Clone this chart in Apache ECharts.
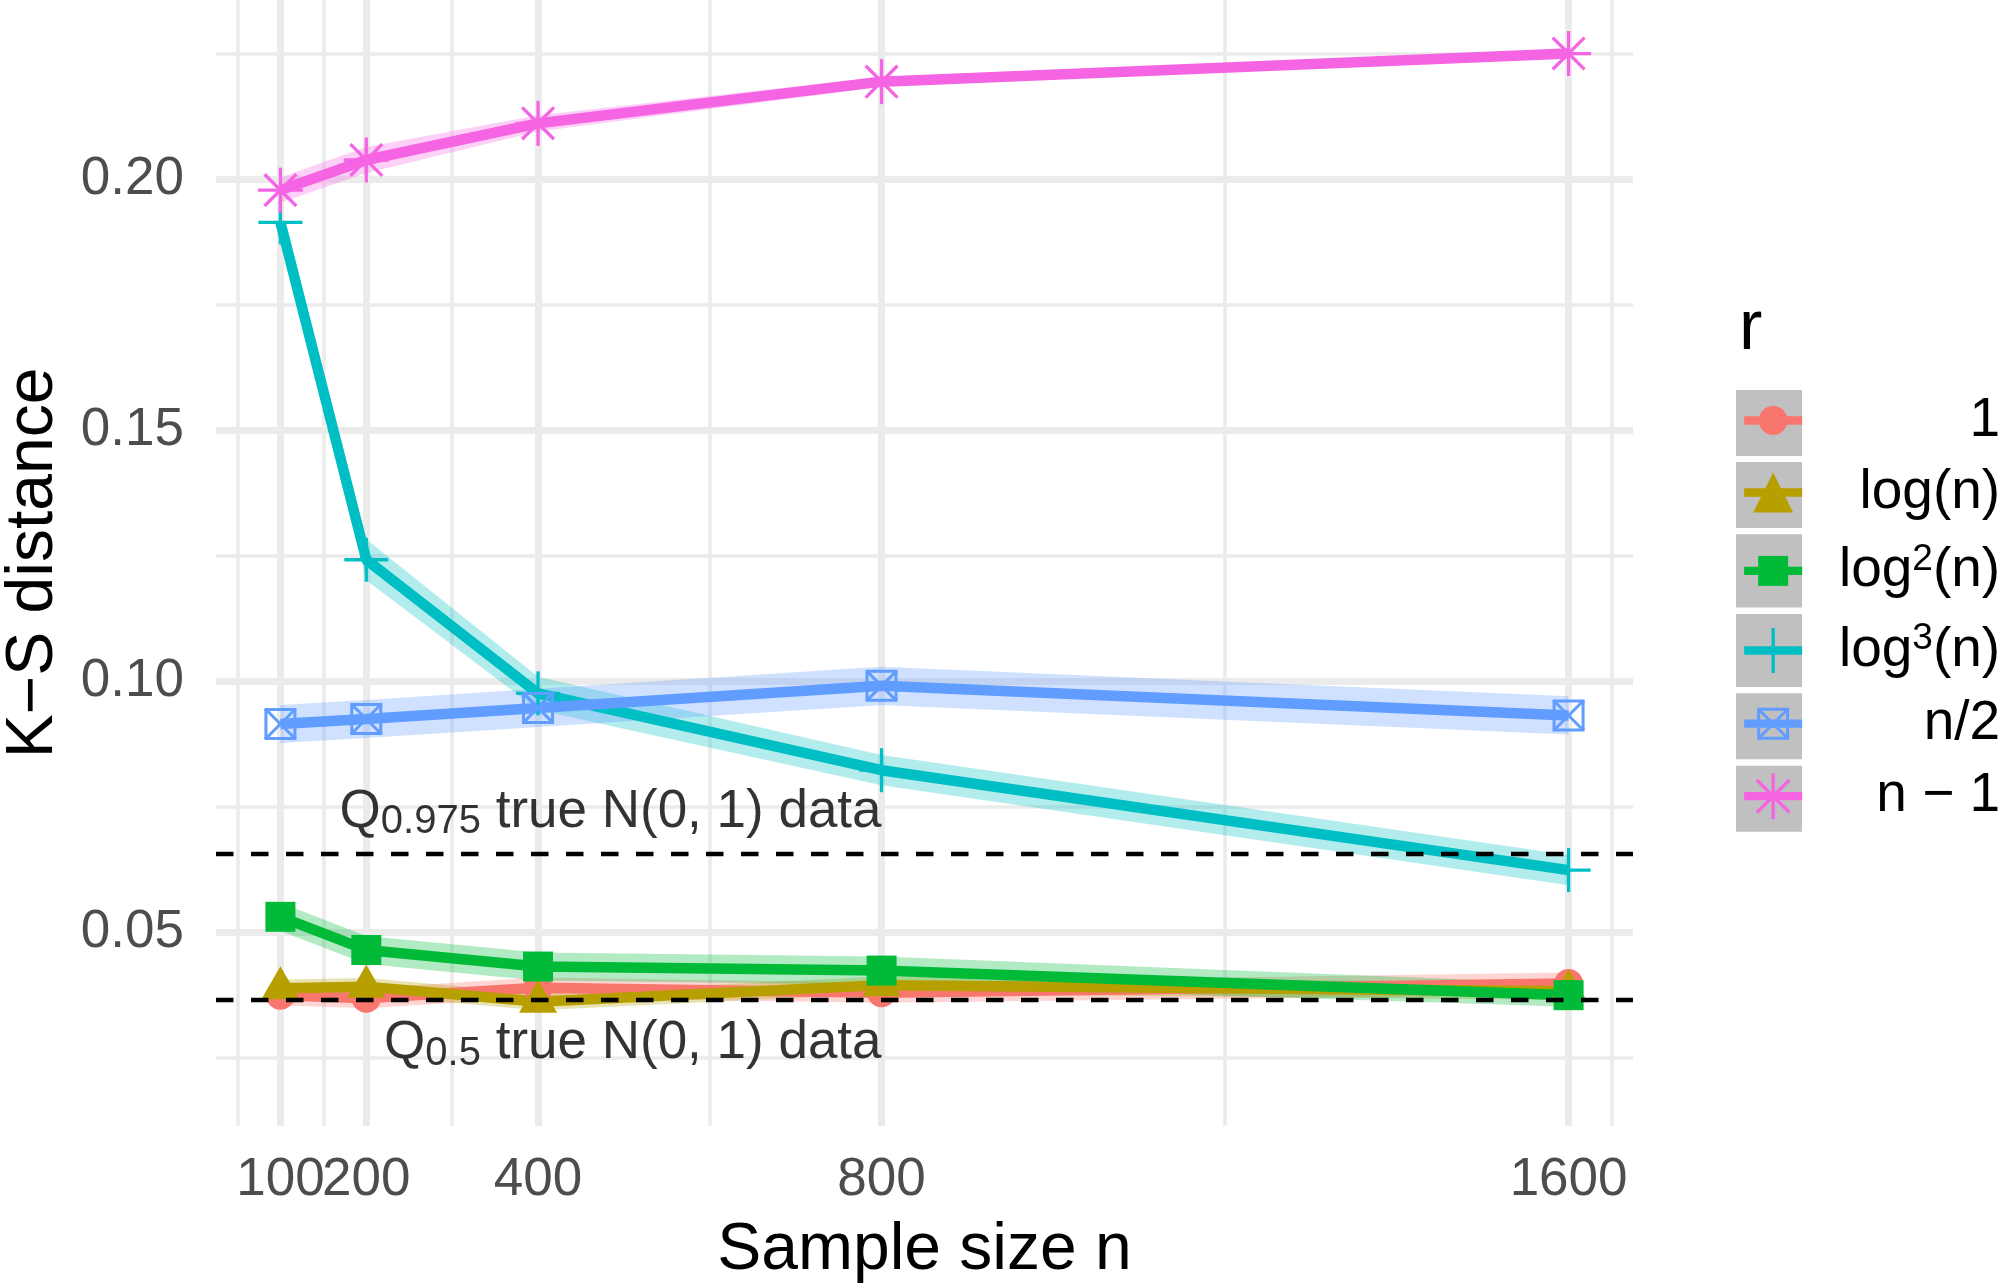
<!DOCTYPE html>
<html>
<head>
<meta charset="utf-8">
<script src="https://cdn.jsdelivr.net/npm/echarts@6/dist/echarts.min.js"></script>
<style>
html, body { margin: 0; padding: 0; background: #fff; }
#chart { width: 2000px; height: 1285px; }
</style>
</head>
<body>
<div id="chart"></div>
<script>
// data
var sampleSizes = [100, 200, 400, 800, 1600];
var xTicksA = [100, 400, 800, 1600];
var xTicksB = [200]; // own axis so it is not dropped next to 100
var xMajor = [100, 200, 400, 800, 1600];
var xMinor = [50, 150, 300, 600, 1200, 1650];
var yTicks = [0.05, 0.10, 0.15, 0.20];
var yMinor = [0.025, 0.075, 0.125, 0.175, 0.225];

var rNames = ['1', 'log(n)', 'log2(n)', 'log3(n)', 'n/2', 'n-1'];

var ksOne = [0.0375, 0.0369, 0.0390, 0.0380, 0.0398];
var ksOneLo = [0.0355, 0.0349, 0.0370, 0.0360, 0.0376];
var ksOneHi = [0.0395, 0.0389, 0.0410, 0.0400, 0.0420];

var ksLog = [0.0389, 0.0392, 0.0362, 0.0395, 0.0383];
var ksLogLo = [0.0372, 0.0375, 0.0345, 0.0378, 0.0366];
var ksLogHi = [0.0406, 0.0409, 0.0379, 0.0412, 0.0400];

var ksLog2 = [0.0531, 0.0465, 0.0432, 0.0424, 0.0375];
var ksLog2Lo = [0.0503, 0.0437, 0.0404, 0.0396, 0.0352];
var ksLog2Hi = [0.0559, 0.0493, 0.0460, 0.0452, 0.0398];

var ksLog3 = [0.1914, 0.1242, 0.0976, 0.0823, 0.0624];
var ksLog3Lo = [0.1902, 0.1201, 0.0943, 0.0793, 0.0594];
var ksLog3Hi = [0.1926, 0.1283, 0.1009, 0.0853, 0.0654];

var ksHalf = [0.0915, 0.0925, 0.0947, 0.0991, 0.0932];
var ksHalfLo = [0.0877, 0.0887, 0.0909, 0.0953, 0.0894];
var ksHalfHi = [0.0953, 0.0963, 0.0985, 0.1029, 0.0970];

var ksNm1 = [0.1978, 0.2038, 0.2111, 0.2194, 0.2250];
var ksNm1Lo = [0.1953, 0.2012, 0.2095, 0.2184, 0.2242];
var ksNm1Hi = [0.2003, 0.2064, 0.2127, 0.2204, 0.2258];

var qLines = [0.0656, 0.0366];
var qLabelX = 800;
var qLabelY = [0.0739, 0.0278];
var qLabelSub = ['0.975', '0.5'];

var colors = ['#F8766D', '#B79F00', '#00BA38', '#00BFC4', '#619CFF', '#F564E3'];
var font = 'Liberation Sans';

var values = [ksOne, ksLog, ksLog2, ksLog3, ksHalf, ksNm1];
var lows = [ksOneLo, ksLogLo, ksLog2Lo, ksLog3Lo, ksHalfLo, ksNm1Lo];
var highs = [ksOneHi, ksLogHi, ksLog2Hi, ksLog3Hi, ksHalfHi, ksNm1Hi];

// ggplot shapes 16, 17, 15, 3, 7, 8
var shapeKinds = ['circle', 'triangle', 'square', 'plus', 'squareX', 'star'];
// symbols used only by the legend icons
var legendSymbols = [
	'circle',
	'path://M0,33L19,0L38,33Z',
	'rect',
	'path://M20.35,0L23.65,0L23.65,44L20.35,44ZM0,20.35L44,20.35L44,23.65L0,23.65Z',
	'path://M0,0L32,0L32,3L0,3ZM0,29L32,29L32,32L0,32ZM0,0L3,0L3,32L0,32ZM29,0L32,0L32,32L29,32Z' +
		'M2.56,0.44L31.56,29.44L29.44,31.56L0.44,2.56ZM31.56,2.56L2.56,31.56L0.44,29.44L29.44,0.44Z',
	'path://M20.85,0L24.15,0L24.15,45L20.85,45ZM0,20.85L45,20.85L45,24.15L0,24.15Z' +
		'M7.76,5.42L39.58,37.24L37.24,39.58L5.42,7.76ZM39.58,7.76L7.76,39.58L5.42,37.24L37.24,5.42Z'
];

function zip(xs, ys) {
	return xs.map(function (x, i) { return [x, ys[i]]; });
}

// a thin stroke drawn as a filled quad
function bar(x1, y1, x2, y2, c, w) {
	var dx = x2 - x1, dy = y2 - y1;
	var len = Math.sqrt(dx * dx + dy * dy);
	var nx = -dy / len * w / 2, ny = dx / len * w / 2;
	return {
		type: 'polygon',
		shape: { points: [[x1 + nx, y1 + ny], [x2 + nx, y2 + ny], [x2 - nx, y2 - ny], [x1 - nx, y1 - ny]] },
		style: { fill: c }
	};
}

function markerItem(i) {
	var c = colors[i], kind = shapeKinds[i];
	return function (params, api) {
		var p = api.coord([api.value(0), api.value(1)]);
		var x = p[0], y = p[1];
		if (kind === 'circle') {
			return { type: 'circle', shape: { cx: x, cy: y, r: 14.5 }, style: { fill: c } };
		}
		if (kind === 'triangle') {
			return { type: 'polygon', shape: { points: [[x, y - 22], [x + 19, y + 11], [x - 19, y + 11]] }, style: { fill: c } };
		}
		if (kind === 'square') {
			return { type: 'rect', shape: { x: x - 15, y: y - 15, width: 30, height: 30 }, style: { fill: c } };
		}
		if (kind === 'plus') {
			return { type: 'group', children: [bar(x - 22, y, x + 22, y, c, 3.3), bar(x, y - 22, x, y + 22, c, 3.3)] };
		}
		if (kind === 'squareX') {
			var h = 14.5;
			return { type: 'group', children: [
				bar(x - h - 1.5, y - h, x + h + 1.5, y - h, c, 3),
				bar(x - h - 1.5, y + h, x + h + 1.5, y + h, c, 3),
				bar(x - h, y - h, x - h, y + h, c, 3),
				bar(x + h, y - h, x + h, y + h, c, 3),
				bar(x - h, y - h, x + h, y + h, c, 3),
				bar(x + h, y - h, x - h, y + h, c, 3)
			] };
		}
		var r = 22.5, d = 15.9;
		return { type: 'group', children: [
			bar(x - r, y, x + r, y, c, 3.3),
			bar(x, y - r, x, y + r, c, 3.3),
			bar(x - d, y - d, x + d, y + d, c, 3.3),
			bar(x + d, y - d, x - d, y + d, c, 3.3)
		] };
	};
}

function ribbon(i) {
	var lo = lows[i], hi = highs[i];
	return {
		name: 'band' + i,
		type: 'custom',
		z: 2,
		silent: true,
		data: sampleSizes.map(function (n, k) { return [n, lo[k], hi[k]]; }),
		encode: { x: 0, y: [1, 2] },
		renderItem: function (params, api) {
			if (params.dataIndex !== 0) return;
			var pts = [];
			for (var k = 0; k < sampleSizes.length; k++) pts.push(api.coord([sampleSizes[k], hi[k]]));
			for (var j = sampleSizes.length - 1; j >= 0; j--) pts.push(api.coord([sampleSizes[j], lo[j]]));
			return {
				type: 'polygon',
				shape: { points: pts },
				style: { fill: colors[i], opacity: 0.3 }
			};
		}
	};
}

var gridLines = [];
xMajor.forEach(function (v) { gridLines.push({ xAxis: v, lineStyle: { width: 7 } }); });
xMinor.forEach(function (v) { gridLines.push({ xAxis: v, lineStyle: { width: 3.6 } }); });
yTicks.forEach(function (v) { gridLines.push({ yAxis: v, lineStyle: { width: 7 } }); });
yMinor.forEach(function (v) { gridLines.push({ yAxis: v, lineStyle: { width: 3.6 } }); });

var series = [];
series.push({
	name: 'grid',
	type: 'line',
	data: [],
	z: 1,
	silent: true,
	markLine: {
		z: 1,
		silent: true,
		precision: 6,
		symbol: ['none', 'none'],
		label: { show: false },
		lineStyle: { color: '#EBEBEB', type: 'solid' },
		data: gridLines
	}
});

for (var i = 0; i < rNames.length; i++) series.push(ribbon(i));

for (var i = 0; i < rNames.length; i++) {
	series.push({
		name: rNames[i],
		type: 'line',
		data: zip(sampleSizes, values[i]),
		z: 3,
		symbol: legendSymbols[i],
		symbolKeepAspect: true,
		showSymbol: false,
		silent: true,
		lineStyle: { color: colors[i], width: 10.5 },
		itemStyle: { color: colors[i], borderWidth: 0 }
	});
}

for (var i = 0; i < rNames.length; i++) {
	series.push({
		name: 'points' + i,
		type: 'custom',
		z: 4,
		silent: true,
		data: zip(sampleSizes, values[i]),
		encode: { x: 0, y: 1 },
		renderItem: markerItem(i)
	});
}

series.push({
	name: 'qlines',
	type: 'line',
	data: [],
	z: 5,
	silent: true,
	markLine: {
		z: 5,
		silent: true,
		precision: 6,
		symbol: ['none', 'none'],
		label: { show: false },
		lineStyle: { color: '#000', type: [17.5, 17.5], width: 4.4 },
		data: qLines.map(function (v) { return { yAxis: v }; })
	}
});

series.push({
	name: 'qlabels',
	type: 'scatter',
	z: 6,
	silent: true,
	symbolSize: 0,
	data: qLabelY.map(function (y, k) {
		return {
			value: [qLabelX, y],
			label: { formatter: '{q|Q}{s|' + qLabelSub[k] + '}{t| true N(0, 1) data}' }
		};
	}),
	label: {
		show: true,
		position: 'left',
		distance: 0,
		color: '#000',
		rich: {
			q: { fontSize: 53, lineHeight: 60, fontFamily: font, color: '#000' },
			s: { fontSize: 40, lineHeight: 32, verticalAlign: 'bottom', fontFamily: font, color: '#000' },
			t: { fontSize: 53, lineHeight: 60, fontFamily: font, color: '#000' }
		}
	}
});

// legend: one component per key so each sits on its grey tile
var keyTiles = [[390, 66], [462, 66], [534.3, 73.2], [613.9, 73.2], [693.2, 66], [765.7, 66]];
var legendIconHeights = [36, 50, 37.5, 56, 40, 57.5];
var legendLabels = {
	'1': '{t|1}',
	'log(n)': '{t|log(n)}',
	'log2(n)': '{t|log}{p|2}{t|(n)}',
	'log3(n)': '{t|log}{p|3}{t|(n)}',
	'n/2': '{t|n/2}',
	'n-1': '{t|n \u2212 1}'
};
var legends = rNames.map(function (name, k) {
	var center = keyTiles[k][0] + keyTiles[k][1] / 2;
	return {
		data: [name],
		orient: 'vertical',
		left: 1740,
		top: center - 30,
		padding: 0,
		itemWidth: 58,
		itemHeight: legendIconHeights[k],
		selectedMode: false,
		lineStyle: { width: 8.3 },
		itemStyle: { color: colors[k], borderWidth: 0 },
		formatter: function (n) { return legendLabels[n]; },
		textStyle: {
			width: 193,
			rich: {
				t: { fontSize: 55, lineHeight: 60, align: 'right', fontFamily: font, color: '#000' },
				p: { fontSize: 37, lineHeight: 20, verticalAlign: 'top', align: 'right', fontFamily: font, color: '#000' }
			}
		}
	};
});

var tiles = keyTiles.map(function (t) {
	return {
		type: 'rect',
		z: 0,
		shape: { x: 1736, y: t[0], width: 66, height: t[1] },
		style: { fill: '#C0C0C0' }
	};
});

function xAxisFor(ticks, withName) {
	return {
		type: 'value',
		gridIndex: 0,
		position: 'bottom',
		min: 25,
		max: 1675,
		name: withName ? 'Sample size n' : '',
		nameLocation: 'middle',
		nameGap: 92,
		nameTextStyle: { fontSize: 66, color: '#000', fontFamily: font },
		axisLine: { show: false },
		axisTick: { show: false },
		splitLine: { show: false },
		axisLabel: {
			customValues: ticks,
			hideOverlap: false,
			fontSize: 53,
			color: '#4D4D4D',
			margin: 28,
			fontFamily: font,
			formatter: function (v) { return String(v); }
		}
	};
}

var myChart = echarts.init(document.getElementById('chart'));
var option = {
	animation: false,
	backgroundColor: '#fff',
	textStyle: { fontFamily: font },
	title: {
		text: 'r',
		left: 1734,
		top: 290,
		textStyle: { fontSize: 70, fontWeight: 'normal', color: '#000', fontFamily: font }
	},
	legend: legends,
	graphic: tiles,
	grid: { left: 216, top: 0, width: 1417, height: 1126, containLabel: false, outerBoundsMode: 'none' },
	xAxis: [xAxisFor(xTicksA, true), xAxisFor(xTicksB, false)],
	yAxis: {
		type: 'value',
		min: 0.01145,
		max: 0.23566,
		name: 'K\u2212S distance',
		nameLocation: 'middle',
		nameRotate: 90,
		nameGap: 149,
		nameTextStyle: { fontSize: 66, color: '#000', fontFamily: font },
		axisLine: { show: false },
		axisTick: { show: false },
		splitLine: { show: false },
		axisLabel: {
			customValues: yTicks,
			fontSize: 53,
			color: '#4D4D4D',
			margin: 32,
			fontFamily: font,
			formatter: function (v) { return v.toFixed(2); }
		}
	},
	series: series
};
myChart.setOption(option);
</script>
</body>
</html>
